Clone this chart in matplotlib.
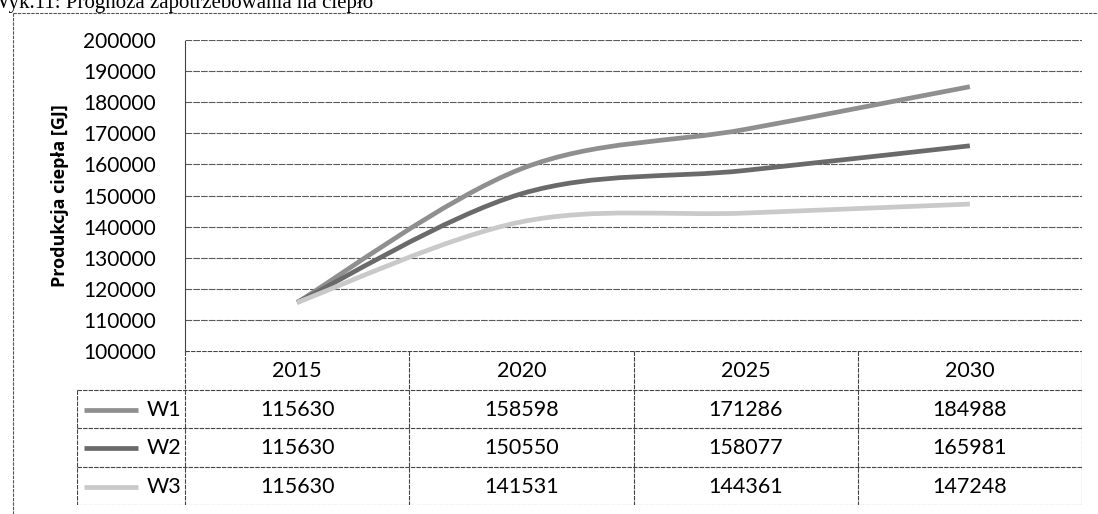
import matplotlib
matplotlib.use("Agg")
import matplotlib.pyplot as plt
from matplotlib.path import Path
from matplotlib.patches import PathPatch
import numpy as np

years = ["2015", "2020", "2025", "2030"]
series_names = ["W1", "W2", "W3"]
w1 = [115630, 158598, 171286, 184988]
w2 = [115630, 150550, 158077, 165981]
w3 = [115630, 141531, 144361, 147248]
series = [w1, w2, w3]
colors = ["#8f8f8f", "#6a6a6a", "#c9c9c9"]
y_ticks = list(range(100000, 200001, 10000))
y_label = "Produkcja ciepła [GJ]"
title = "Wyk.11: Prognoza zapotrzebowania na ciepło"

W, H = 1098, 514
fig = plt.figure(figsize=(W / 100, H / 100), dpi=100)

def fx(px):
    return px / W

def fy(py):
    return 1 - py / H

# main axes
left, right, top, bottom = 185, 1082, 40, 351
ax = fig.add_axes([fx(left), fy(bottom), fx(right - left), (bottom - top) / H])
ax.set_xlim(-0.5, 3.5)
ax.set_ylim(100000, 200000)
for s in ax.spines.values():
    s.set_visible(False)
ax.spines["left"].set_visible(True)
ax.spines["left"].set_color("#444444")
ax.spines["left"].set_linewidth(0.8)
ax.spines["left"].set_linestyle((0, (4, 1)))
ax.set_xticks([])
ax.set_yticks(y_ticks)
ax.set_yticklabels([str(t) for t in y_ticks], fontsize=15, family="Lato")
ax.tick_params(axis="y", length=0, pad=21)
for t in y_ticks[1:]:
    ax.axhline(t, color="#5a5a5a", lw=0.8, ls=(0, (6, 1)), zorder=1)
ax.set_ylabel(y_label, fontsize=13, fontweight="bold", family="Open Sans", labelpad=10)

# Excel-like smoothed lines (Bezier through data points)
def smooth_path(xs, ys):
    pts = np.column_stack([xs, ys]).astype(float)
    n = len(pts)
    verts = [pts[0]]
    codes = [Path.MOVETO]
    for i in range(n - 1):
        p0 = pts[i - 1] if i > 0 else pts[i]
        p1 = pts[i]
        p2 = pts[i + 1]
        p3 = pts[i + 2] if i + 2 < n else pts[i + 1]
        c1 = p1 + (p2 - p0) / 6.0
        c2 = p2 - (p3 - p1) / 6.0
        verts += [c1, c2, p2]
        codes += [Path.CURVE4] * 3
    return Path(verts, codes)

xs = np.arange(len(years))
for vals, col in zip(series, colors):
    p = smooth_path(xs, vals)
    ax.add_patch(PathPatch(p, facecolor="none", edgecolor=col, lw=3.4,
                           capstyle="butt", zorder=3))

# table axes
t_left, t_top, t_bottom = 77, 351, 505
tax = fig.add_axes([fx(t_left), fy(t_bottom), fx(right - t_left), (t_bottom - t_top) / H])
unit = (right - left) / 4.0
x0 = -0.5 - (left - t_left) / unit
tax.set_xlim(x0, 3.5)
row_edges_px = [351, 390, 428, 467, 505]
tax.set_ylim(t_bottom, t_top)
tax.axis("off")
lc = "#444444"
ls = (0, (4, 1))
# horizontal lines
tax.plot([-0.5, 3.5], [row_edges_px[0]] * 2, color=lc, lw=0.8, ls=ls)
for yy in row_edges_px[1:]:
    tax.plot([x0, 3.5], [yy, yy], color=lc, lw=0.8, ls=ls)
# vertical lines
tax.plot([x0, x0], [row_edges_px[1], row_edges_px[-1]], color=lc, lw=0.8, ls=ls)
for xv in [-0.5, 0.5, 1.5, 2.5, 3.5]:
    tax.plot([xv, xv], [row_edges_px[0], row_edges_px[-1]], color=lc, lw=0.8, ls=ls)
# header
fs = 15.5
for i, yr in enumerate(years):
    tax.text(i, (row_edges_px[0] + row_edges_px[1]) / 2 + 1, yr, ha="center", va="center",
             fontsize=fs, family="Lato")
for r, (name, vals, col) in enumerate(zip(series_names, series, colors)):
    yc = (row_edges_px[r + 1] + row_edges_px[r + 2]) / 2 + 1
    for i, v in enumerate(vals):
        tax.text(i, yc, str(v), ha="center", va="center", fontsize=fs, family="Lato")
    tax.plot([x0 + 0.03, x0 + 0.27], [yc, yc], color=col, lw=3.4, solid_capstyle="butt")
    tax.text(-0.515, yc, name, ha="right", va="center", fontsize=fs, family="Lato")

# outer border
fig.add_artist(plt.Line2D([fx(13), 1], [fy(13), fy(13)], color="#555555", lw=0.8, ls=(0, (3, 1))))
fig.add_artist(plt.Line2D([fx(13), fx(13)], [fy(13), 0], color="#555555", lw=0.8, ls=(0, (3, 1))))

# title (partially cropped at top, as in the scan)
fig.text(fx(-10), fy(8), title, ha="left", va="baseline", fontsize=15,
         family="Liberation Serif")

fig.savefig("out.png", dpi=100)
